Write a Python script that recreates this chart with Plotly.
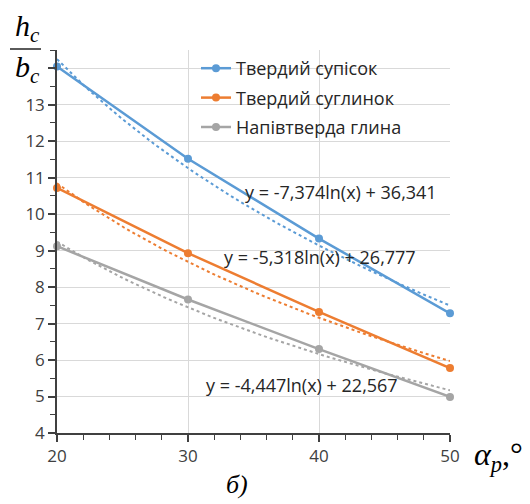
import numpy as np
import plotly.graph_objects as go

OFF = 8  # default page body margin
W, H = 530 - OFF, 504 - OFF
ML, MR, MT, MB = 57 - OFF, 80, 50 - OFF, 71

x_vals = [20, 30, 40, 50]
series_names = ["Твердий супісок", "Твердий суглинок", "Напівтверда глина"]
supisok = [14.05, 11.52, 9.33, 7.28]
suglynok = [10.72, 8.93, 7.32, 5.78]
glyna = [9.12, 7.66, 6.30, 4.99]
series_values = [supisok, suglynok, glyna]
colors = ["#5B9BD5", "#ED7D31", "#A5A5A5"]

# logarithmic trend coefficients as printed on the chart: y = a*ln(x) + b
trend_a = [-7.374, -5.318, -4.447]
trend_b = [36.341, 26.777, 22.567]
trend_labels = ["y = -7,374ln(x) + 36,341", "y = -5,318ln(x) + 26,777", "y = -4,447ln(x) + 22,567"]

y_ticks = [4, 5, 6, 7, 8, 9, 10, 11, 12, 13, 14]
y_tick_text = ["4", "5", "6", "7", "8", "9", "10", "11", "12", "13", ""]
x_ticks = [20, 30, 40, 50]
x_minor_ticks = [22, 24, 26, 28, 32, 34, 36, 38, 42, 44, 46, 48]

def px(x):
    return (x - OFF - ML) / (W - ML - MR)

def py(y):
    return 1 - (y - OFF - MT) / (H - MT - MB)

fig = go.Figure()
xt = np.linspace(20, 50, 60)
for name, vals, c, a, b in zip(series_names, series_values, colors, trend_a, trend_b):
    fig.add_trace(go.Scatter(x=xt, y=a * np.log(xt) + b, mode="lines",
                             line=dict(color=c, width=2, dash="dot"),
                             showlegend=False, hoverinfo="skip", cliponaxis=False))
for i, (name, vals, c) in enumerate(zip(series_names, series_values, colors)):
    fig.add_trace(go.Scatter(x=x_vals, y=vals, mode="lines+markers", name=name,
                             legendgroup=f"g{i}",
                             line=dict(color=c, width=2.5),
                             marker=dict(color=c, size=8), cliponaxis=False))

axis_col = "#404040"
tick_font = dict(family="Open Sans, sans-serif", size=17, color="#404040")

fig.update_layout(
    width=W, height=H,
    margin=dict(l=ML, r=MR, t=MT, b=MB, autoexpand=False),
    paper_bgcolor="white", plot_bgcolor="white",
    xaxis=dict(range=[20, 50], tickmode="array", tickvals=x_ticks, ticks="outside", ticklen=7,
               tickcolor=axis_col, tickwidth=1.5, showline=True, linecolor=axis_col,
               linewidth=1.5, showgrid=True, gridcolor="#D9D9D9", gridwidth=1,
               zeroline=False, tickfont=tick_font, automargin=False,
               minor=dict(tickvals=x_minor_ticks, ticks="outside", ticklen=5,
                          tickcolor=axis_col, tickwidth=1.3, showgrid=False)),
    yaxis=dict(range=[4, 14.5], tickmode="array", tickvals=y_ticks, ticktext=y_tick_text,
               ticks="outside", ticklen=7, tickcolor=axis_col, tickwidth=1.5, showline=True,
               linecolor=axis_col, linewidth=1.5, showgrid=True, gridcolor="#D9D9D9",
               gridwidth=1, zeroline=False, tickfont=tick_font, automargin=False,
               minor=dict(dtick=0.5, ticks="outside", ticklen=5, tickcolor=axis_col,
                          tickwidth=1.3, showgrid=False)),
    legend=dict(x=px(196), y=py(50), xanchor="left", yanchor="top",
                bgcolor="rgba(0,0,0,0)", borderwidth=0,
                font=dict(family="Open Sans, sans-serif", size=18, color="#262626"),
                tracegroupgap=3, itemwidth=30),
    showlegend=True,
)

ann_font = dict(family="Open Sans, sans-serif", size=18, color="#262626")
label_pos = [(341, 192), (320, 257), (302, 385)]
for txt, (ax_, ay_) in zip(trend_labels, label_pos):
    fig.add_annotation(x=px(ax_), y=py(ay_), xref="paper", yref="paper", text=txt,
                       showarrow=False, font=ann_font, xanchor="center", yanchor="middle")

serif = "Liberation Serif, Times New Roman, serif"
fig.add_annotation(x=px(27), y=py(28), xref="paper", yref="paper",
                   text="<i>h</i><sub><i>c</i></sub>", showarrow=False,
                   font=dict(family=serif, size=30, color="black"), xanchor="center", yanchor="middle")
fig.add_annotation(x=px(27), y=py(69), xref="paper", yref="paper",
                   text="<i>b</i><sub><i>c</i></sub>", showarrow=False,
                   font=dict(family=serif, size=30, color="black"), xanchor="center", yanchor="middle")
fig.add_shape(type="line", xref="paper", yref="paper", x0=px(10), x1=px(41), y0=py(49), y1=py(49),
              line=dict(color="black", width=1.3))
fig.add_annotation(x=px(472), y=py(456), xref="paper", yref="paper",
                   text="<i>α</i><sub><i>p</i></sub>,°", showarrow=False,
                   font=dict(family=serif, size=32, color="black"), xanchor="left", yanchor="middle")
fig.add_annotation(x=px(237), y=py(484), xref="paper", yref="paper",
                   text="<i>б)</i>", showarrow=False,
                   font=dict(family=serif, size=26, color="black"), xanchor="center", yanchor="middle")

fig.write_html("out.html")
